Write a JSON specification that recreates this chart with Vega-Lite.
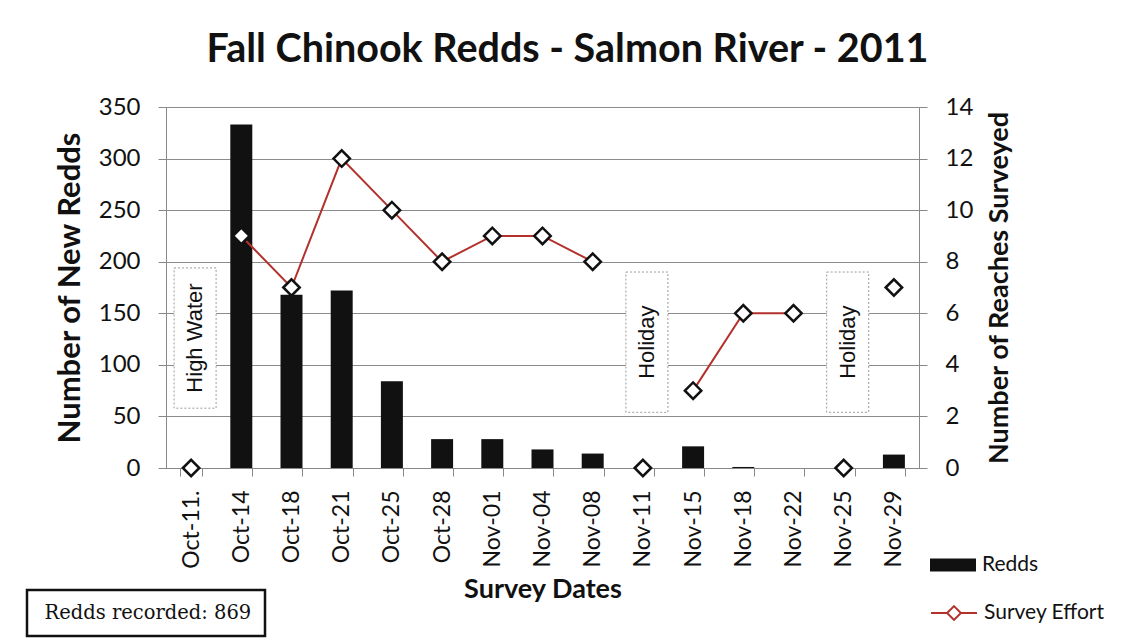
{
  "$schema": "https://vega.github.io/schema/vega-lite/v6.json",
  "width": 753,
  "height": 361,
  "autosize": {"type": "none"},
  "padding": {"left": 166, "top": 107, "right": 211, "bottom": 175},
  "background": "white",
  "config": {
    "font": "Lato",
    "view": {"stroke": null},
    "axis": {
      "labelFont": "Lato",
      "titleFont": "Lato",
      "labelColor": "#111",
      "titleColor": "#111",
      "domainColor": "#888",
      "tickColor": "#888",
      "gridColor": "#8c8c8c",
      "gridOpacity": 1,
      "tickSize": 8
    },
    "legend": {"strokeWidth": 2.5}
  },
  "title": {
    "text": "Fall Chinook Redds - Salmon River - 2011",
    "font": "Lato",
    "fontSize": 39.5,
    "fontWeight": "bold",
    "color": "#111",
    "anchor": "middle",
    "frame": "group",
    "dx": 25,
    "offset": 25
  },
  "datasets": {
    "main": [
      {"date": "Oct-11.", "redds": 0, "effort": 0, "seg": null},
      {"date": "Oct-14", "redds": 333, "effort": 9, "seg": "a"},
      {"date": "Oct-18", "redds": 168, "effort": 7, "seg": "a"},
      {"date": "Oct-21", "redds": 172, "effort": 12, "seg": "a"},
      {"date": "Oct-25", "redds": 84, "effort": 10, "seg": "a"},
      {"date": "Oct-28", "redds": 28, "effort": 8, "seg": "a"},
      {"date": "Nov-01", "redds": 28, "effort": 9, "seg": "a"},
      {"date": "Nov-04", "redds": 18, "effort": 9, "seg": "a"},
      {"date": "Nov-08", "redds": 14, "effort": 8, "seg": "a"},
      {"date": "Nov-11", "redds": 0, "effort": 0, "seg": null},
      {"date": "Nov-15", "redds": 21, "effort": 3, "seg": "b"},
      {"date": "Nov-18", "redds": 1, "effort": 6, "seg": "b"},
      {"date": "Nov-22", "redds": 0, "effort": 6, "seg": "b"},
      {"date": "Nov-25", "redds": 0, "effort": 0, "seg": null},
      {"date": "Nov-29", "redds": 13, "effort": 7, "seg": null}
    ],
    "notes": [
      {"date": "Oct-11.", "label": "High Water", "top": 194, "bottom": 58, "mid": 126},
      {"date": "Nov-11", "label": "Holiday", "top": 190, "bottom": 54, "mid": 122},
      {"date": "Nov-25", "label": "Holiday", "top": 190, "bottom": 54, "mid": 122}
    ]
  },
  "layer": [
    {
      "layer": [
        {
          "data": {"name": "notes"},
          "mark": {"type": "bar", "width": 42, "xOffset": 4, "fill": "white", "stroke": "#9a9a9a", "strokeDash": [2, 2], "strokeWidth": 1},
          "encoding": {
            "x": {
              "field": "date",
              "type": "nominal",
              "sort": null,
              "scale": {
                "domain": ["Oct-11.", "Oct-14", "Oct-18", "Oct-21", "Oct-25", "Oct-28", "Nov-01", "Nov-04", "Nov-08", "Nov-11", "Nov-15", "Nov-18", "Nov-22", "Nov-25", "Nov-29"],
                "paddingInner": 0.562,
                "paddingOuter": 0.281
              },
              "axis": {
                "title": "Survey Dates",
                "titleFontSize": 27,
                "titleFontWeight": "bold",
                "titlePadding": 8,
                "labelAngle": -90,
                "labelFontSize": 23,
                "labelPadding": 14,
                "tickBand": "extent",
                "grid": false
              }
            },
            "y": {
              "field": "top",
              "type": "quantitative",
              "scale": {"domain": [0, 350], "nice": false},
              "axis": {
                "title": "Number of New Redds",
                "titleFontSize": 31,
                "titleFontWeight": "bold",
                "titlePadding": 12,
                "labelFontSize": 24,
                "labelPadding": 18,
                "values": [0, 50, 100, 150, 200, 250, 300, 350],
                "grid": true
              }
            },
            "y2": {"field": "bottom"}
          }
        },
        {
          "data": {"name": "main"},
          "mark": {"type": "bar"},
          "encoding": {
            "x": {"field": "date", "type": "nominal", "sort": null},
            "y": {"field": "redds", "type": "quantitative"},
            "fill": {
              "datum": "Redds",
              "scale": {"range": ["#111111"]},
              "legend": {
                "orient": "none",
                "legendX": 764,
                "legendY": 435,
                "title": null,
                "symbolType": "M-1,-0.28H1V0.28H-1Z",
                "symbolSize": 2116,
                "symbolFillColor": "#111111",
                "symbolStrokeWidth": 0,
                "labelFont": "Lato",
                "labelFontSize": 21,
                "labelColor": "#111",
                "labelOffset": 6,
                "padding": 0
              }
            },
            "strokeDash": {
              "datum": "Redds recorded: 869",
              "scale": {"range": [[1, 0]]},
              "legend": {
                "orient": "none",
                "legendX": -139,
                "legendY": 483,
                "title": null,
                "symbolOpacity": 0,
                "symbolSize": 0,
                "labelFont": "DejaVu Serif",
                "labelFontSize": 19.5,
                "labelColor": "#111",
                "labelOffset": -15,
                "labelLimit": 0,
                "strokeColor": "#111111",
                "padding": 13
              }
            }
          }
        },
        {
          "data": {"name": "notes"},
          "mark": {"type": "text", "angle": 270, "xOffset": 4, "font": "Liberation Sans", "fontSize": 22, "color": "#111", "align": "center", "baseline": "middle"},
          "encoding": {
            "x": {"field": "date", "type": "nominal", "sort": null},
            "y": {"field": "mid", "type": "quantitative"},
            "text": {"field": "label"}
          }
        }
      ]
    },
    {
      "layer": [
        {
          "data": {"name": "main"},
          "transform": [{"filter": "datum.seg != null"}],
          "mark": {"type": "line", "strokeWidth": 2},
          "encoding": {
            "x": {"field": "date", "type": "nominal", "sort": null},
            "y": {
              "field": "effort",
              "type": "quantitative",
              "scale": {"domain": [0, 14], "nice": false},
              "axis": {
                "orient": "right",
                "title": "Number of Reaches Surveyed",
                "titleFontSize": 27,
                "titleFontWeight": "bold",
                "titleAngle": 270,
                "titleBaseline": "top",
                "titlePadding": 14,
                "labelFontSize": 24,
                "labelPadding": 18,
                "values": [0, 2, 4, 6, 8, 10, 12, 14],
                "grid": false
              }
            },
            "detail": {"field": "seg"},
            "stroke": {
              "datum": "Survey Effort",
              "scale": {"range": ["#b3312c"]},
              "legend": {
                "orient": "none",
                "legendX": 764,
                "legendY": 482,
                "title": null,
                "symbolType": "M-1,0H-0.3M0.3,0H1M0,-0.3L0.3,0L0,0.3L-0.3,0Z",
                "symbolSize": 2116,
                "symbolStrokeColor": "#b3312c",
                "symbolFillColor": "#ffffff",
                "symbolStrokeWidth": 2,
                "labelFont": "Lato",
                "labelFontSize": 21,
                "labelColor": "#111",
                "labelOffset": 6,
                "padding": 0
              }
            }
          }
        },
        {
          "data": {"name": "main"},
          "mark": {"type": "point", "shape": "diamond", "filled": false, "fill": "white", "fillOpacity": 1, "stroke": "#111111", "strokeWidth": 2.5, "size": 270, "opacity": 1},
          "encoding": {
            "x": {"field": "date", "type": "nominal", "sort": null},
            "y": {"field": "effort", "type": "quantitative"}
          }
        }
      ]
    }
  ],
  "resolve": {"scale": {"y": "independent"}}
}
